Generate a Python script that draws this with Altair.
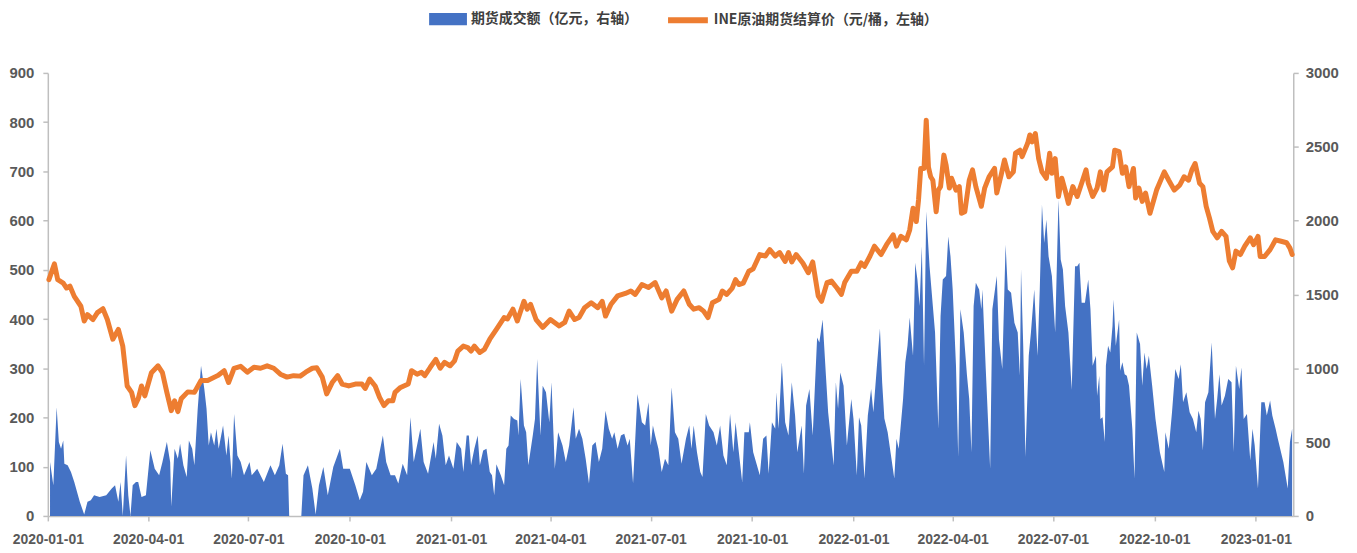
import altair as alt
import pandas as pd

AREA_LABEL = "期货成交额（亿元，右轴）"
LINE_LABEL = "INE原油期货结算价（元/桶，左轴）"
START = "2020-01-01"

# days after 2020-01-01 and settlement price (yuan/barrel, left axis)
price_day = [
    1, 6, 9, 14, 17, 20, 24, 30, 33, 36,
    41, 45, 50, 54, 59, 64, 68, 72, 76, 79,
    82, 85, 88, 94, 100, 104, 108, 112, 115, 118,
    121, 127, 133, 139, 145, 154, 160, 164, 169, 175,
    181, 187, 193, 199, 205, 211, 217, 223, 229, 234,
    240, 244, 249, 253, 258, 263, 267, 273, 279, 285,
    288, 292, 297, 301, 305, 309, 313, 315, 320, 327,
    330, 335, 339, 342, 347, 352, 356, 360, 365, 369,
    372, 377, 381, 384, 387, 392, 396, 401, 407, 414,
    417, 422, 426, 432, 435, 438, 443, 449, 456, 464,
    469, 473, 478, 482, 487, 493, 499, 503, 506, 511,
    517, 524, 529, 533, 539, 545, 551, 557, 561, 566,
    571, 577, 582, 586, 591, 595, 599, 603, 609, 612,
    616, 621, 624, 627, 631, 636, 640, 646, 651, 655,
    660, 664, 669, 672, 675, 679, 685, 690, 694, 699,
    702, 707, 711, 716, 720, 723, 729, 734, 738, 741,
    746, 750, 756, 761, 767, 770, 774, 779, 782, 785,
    788, 790, 792, 795, 797, 799, 801, 803, 806, 808,
    810, 813, 815, 818, 820, 824, 827, 829, 832, 836,
    839, 842, 847, 850, 854, 859, 861, 865, 868, 872,
    876, 878, 882, 884, 889, 891, 893, 896, 899, 902,
    906, 909, 911, 914, 917, 920, 923, 926, 930, 934,
    938, 942, 944, 948, 952, 955, 958, 961, 966, 968,
    972, 975, 978, 981, 985, 987, 990, 993, 996, 1000,
    1006, 1013, 1017, 1022, 1027, 1031, 1035, 1038, 1041, 1045,
    1048, 1051, 1054, 1057, 1061, 1065, 1069, 1072, 1075, 1078,
    1082, 1086, 1091, 1094, 1098, 1100, 1104, 1109, 1114, 1119,
    1124, 1127, 1129,
]
price_value = [
    480, 512, 480, 473, 463, 467, 446, 426, 396, 409,
    399, 413, 421, 399, 359, 379, 345, 264, 251, 224,
    238, 264, 244, 291, 305, 291, 251, 214, 234, 212,
    238, 252, 251, 275, 275, 285, 295, 271, 300, 304,
    292, 302, 300, 305, 300, 288, 282, 285, 284, 292,
    300, 301, 282, 248, 271, 285, 268, 264, 268, 268,
    259, 278, 264, 241, 224, 234, 234, 251, 261, 268,
    295, 288, 292, 285, 302, 318, 300, 312, 305, 315,
    335, 345, 342, 335, 345, 332, 338, 359, 379, 403,
    400, 420, 396, 436, 420, 430, 399, 383, 399, 386,
    393, 416, 399, 403, 423, 433, 423, 436, 406, 430,
    447, 452, 457, 450, 470, 464, 474, 443, 457, 416,
    440, 457, 430, 420, 423, 416, 403, 433, 440, 457,
    450, 463, 480, 470, 473, 497, 502, 531, 528, 541,
    528, 535, 517, 535, 516, 531, 514, 494, 516, 447,
    436, 474, 477, 463, 450, 474, 497, 497, 514, 507,
    528, 548, 531, 551, 571, 548, 568, 561, 581, 625,
    598, 642, 706, 706, 804, 709, 689, 682, 618, 662,
    669, 733, 713, 666, 686, 662, 669, 615, 618, 682,
    703, 669, 629, 666, 689, 706, 656, 693, 723, 689,
    699, 737, 743, 730, 757, 774, 760, 777, 726, 699,
    686, 737, 696, 726, 649, 686, 662, 635, 669, 649,
    676, 703, 676, 649, 666, 699, 662, 699, 709, 743,
    740, 696, 709, 669, 706, 646, 666, 639, 656, 615,
    662, 699, 682, 662, 672, 689, 682, 703, 716, 676,
    669, 629, 605, 578, 565, 578, 568, 518, 504, 538,
    531, 548, 565, 551, 568, 527, 527, 541, 561, 558,
    555, 544, 531,
]

# days after 2020-01-01 and futures turnover (100 million yuan, right axis)
vol_day = [
    2, 5, 8, 10, 12, 14, 15, 18, 21, 24,
    29, 33, 36, 39, 42, 47, 53, 58, 61, 64,
    66, 68, 71, 73, 75, 77, 80, 82, 85, 89,
    93, 97, 101, 104, 108, 111, 112, 115, 118, 120,
    123, 126, 128, 131, 133, 136, 139, 142, 144, 146,
    148, 151, 153, 155, 159, 162, 164, 167, 169, 172,
    175, 178, 183, 185, 190, 196, 202, 206, 210, 213,
    216, 218, 219, 230, 232, 236, 240, 243, 246, 250,
    254, 259, 265, 268, 274, 279, 283, 286, 289, 294,
    298, 304, 307, 311, 315, 318, 322, 326, 329, 332,
    335, 338, 341, 345, 350, 352, 355, 358, 361, 364,
    368, 371, 375, 377, 380, 382, 384, 387, 390, 392,
    395, 398, 401, 403, 405, 407, 411, 414, 416, 418,
    420, 423, 426, 427, 429, 432, 434, 436, 440, 442,
    444, 447, 449, 452, 455, 457, 460, 463, 467, 470,
    473, 477, 479, 482, 485, 488, 491, 494, 497, 500,
    503, 506, 509, 512, 514, 517, 520, 523, 526, 528,
    531, 535, 539, 542, 545, 547, 549, 551, 554, 557,
    560, 563, 566, 569, 572, 575, 579, 582, 584, 586,
    589, 592, 594, 597, 600, 604, 607, 610, 613, 616,
    619, 622, 624, 627, 630, 632, 636, 637, 640, 646,
    649, 652, 654, 657, 660, 661, 663, 666, 669, 672,
    675, 678, 680, 684, 686, 688, 691, 694, 698, 700,
    703, 706, 708, 713, 715, 717, 719, 722, 725, 729,
    731, 734, 736, 738, 741, 744, 747, 749, 752, 755,
    757, 759, 762, 768, 770, 772, 776, 778, 780, 782,
    785, 787, 789, 791, 793, 795, 797, 800, 803, 805,
    808, 810, 812, 815, 817, 819, 821, 824, 826, 828,
    831, 834, 836, 838, 840, 842, 845, 847, 848, 851,
    855, 857, 861, 863, 866, 869, 871, 874, 877, 880,
    882, 883, 885, 887, 890, 892, 895, 898, 900, 902,
    904, 906, 908, 911, 914, 917, 919, 921, 923, 926,
    929, 932, 934, 936, 938, 941, 944, 946, 948, 951,
    952, 954, 955, 957, 959, 960, 962, 964, 966, 967,
    969, 972, 973, 975, 977, 979, 981, 984, 986, 988,
    991, 993, 995, 997, 999, 1002, 1005, 1009, 1013, 1014,
    1017, 1020, 1023, 1026, 1028, 1030, 1033, 1036, 1039, 1042,
    1044, 1046, 1048, 1050, 1053, 1056, 1059, 1061, 1063, 1065,
    1068, 1071, 1074, 1076, 1078, 1081, 1083, 1085, 1088, 1091,
    1093, 1095, 1098, 1101, 1104, 1106, 1109, 1111, 1114, 1116,
    1121, 1125, 1127, 1129,
]
vol_value = [
    365, 208, 736, 500, 455, 511, 354, 343, 298, 230,
    96, 10, 96, 107, 140, 129, 140, 185, 208, 96,
    230, 0, 410, 140, 0, 208, 230, 230, 129, 140,
    444, 320, 275, 365, 500, 365, 64, 455, 388, 489,
    343, 264, 511, 455, 343, 725, 1017, 860, 725, 477,
    567, 477, 590, 455, 612, 410, 545, 253, 691, 410,
    365, 275, 365, 275, 320, 230, 343, 275, 343, 489,
    286, 275, 0, 0, 275, 343, 185, 10, 208, 332,
    140, 332, 455, 320, 320, 208, 107, 163, 365, 275,
    320, 545, 365, 275, 275, 219, 354, 275, 669, 365,
    477, 590, 365, 286, 500, 388, 624, 545, 343, 410,
    320, 500, 455, 298, 545, 545, 343, 455, 545, 343,
    443, 455, 298, 275, 140, 350, 275, 208, 455, 477,
    680, 657, 646, 545, 927, 612, 567, 343, 545, 657,
    1062, 545, 882, 837, 635, 905, 320, 567, 477, 365,
    477, 736, 522, 590, 522, 388, 219, 477, 500, 365,
    455, 713, 590, 522, 567, 455, 545, 556, 477, 522,
    219, 826, 635, 612, 770, 477, 612, 545, 455, 298,
    388, 343, 871, 567, 522, 354, 522, 612, 455, 612,
    432, 298, 264, 691, 612, 567, 477, 612, 410, 343,
    691, 432, 635, 432, 230, 567, 567, 635, 432, 275,
    522, 545, 286, 635, 590, 837, 590, 1040, 635, 545,
    905, 680, 432, 612, 286, 747, 860, 545, 1208, 1175,
    1331, 950, 702, 343, 905, 725, 972, 882, 477, 792,
    657, 275, 668, 612, 253, 680, 860, 702, 990, 1270,
    905, 660, 567, 253, 522, 455, 792, 1040, 1152, 1343,
    1084, 1714, 1601, 1421, 1826, 1017, 2062, 1691, 1421, 1242,
    590, 1354, 1601, 1624, 1893, 1758, 1534, 1017, 399, 1399,
    1242, 949, 792, 432, 1421, 1579, 1534, 1399, 1534, 995,
    320, 1399, 1624, 1197, 995, 1837, 1534, 1511, 1309, 1242,
    949, 1669, 1152, 399, 1084, 1242, 1534, 1084, 1534, 2107,
    1849, 2006, 1758, 1624, 1242, 2141, 1736, 1669, 1421, 1242,
    854, 1691, 1691, 1714, 1444, 1444, 1601, 1399, 1017, 1084,
    814, 949, 657, 668, 500, 1017, 1152, 1107, 1286, 1466,
    1152, 1331, 983, 1040, 960, 949, 882, 590, 253, 1242,
    1164, 882, 1107, 995, 1084, 882, 657, 432, 298, 567,
    455, 702, 995, 927, 1028, 770, 837, 702, 657, 567,
    713, 657, 443, 770, 837, 1175, 657, 792, 960, 747,
    814, 927, 905, 432, 1017, 860, 1005, 657, 691, 376,
    590, 478, 185, 770, 770, 680, 781, 680, 590, 522,
    365, 185, 500, 590,
]

x_tick_dates = [(2020, 1), (2020, 4), (2020, 7), (2020, 10),
                (2021, 1), (2021, 4), (2021, 7), (2021, 10),
                (2022, 1), (2022, 4), (2022, 7), (2022, 10), (2023, 1)]
left_ticks = [0, 100, 200, 300, 400, 500, 600, 700, 800, 900]
right_ticks = [0, 500, 1000, 1500, 2000, 2500, 3000]

assert len(price_day) == len(price_value)
assert len(vol_day) == len(vol_value)


def to_dates(days):
    base = pd.Timestamp(START)
    return [(base + pd.Timedelta(days=int(d))).strftime("%Y-%m-%d") for d in days]


price_df = pd.DataFrame({"date": to_dates(price_day), "price": price_value,
                         "s_line": LINE_LABEL})
vol_df = pd.DataFrame({"date": to_dates(vol_day), "volume": vol_value,
                       "s_area": AREA_LABEL})

NUM_FONT = "Liberation Sans, Arial, sans-serif"
CJK_FONT = "Noto Sans CJK SC"
TXT = "#595959"
AXC = "#BFBFBF"

x_enc = alt.X(
    "date:T",
    title=None,
    scale=alt.Scale(type="utc",
                    domain=[alt.DateTime(year=2020, month=1, date=1, utc=True),
                            alt.DateTime(year=2023, month=2, date=4, utc=True)]),
    axis=alt.Axis(values=[alt.DateTime(year=y, month=m, date=1, utc=True)
                          for y, m in x_tick_dates],
                  labelExpr="utcFormat(datum.value, '%Y-%m-%d')",
                  labelFontSize=14, labelPadding=12, labelFlush=False,
                  labelOverlap=False),
)

area = alt.Chart(vol_df).mark_area(interpolate="linear", opacity=1).encode(
    x=x_enc,
    y=alt.Y("volume:Q", title=None,
            scale=alt.Scale(domain=[0, 3000], nice=False, zero=True),
            axis=alt.Axis(orient="right", values=right_ticks, format="d",
                          labelFontSize=15, labelPadding=7)),
    fill=alt.Fill("s_area:N",
                  scale=alt.Scale(domain=[AREA_LABEL], range=["#4472C4"]),
                  legend=alt.Legend(orient="none", legendX=383, legendY=-73,
                                    title=None, padding=0, labelLimit=0,
                                    symbolType="M-1,-0.32L1,-0.32L1,0.32L-1,0.32Z",
                                    symbolSize=1444, symbolStrokeWidth=0,
                                    symbolFillColor="#4472C4",
                                    labelFont=CJK_FONT, labelFontSize=14,
                                    labelFontWeight="bold", labelColor="#404040",
                                    labelOffset=4)),
)

line = alt.Chart(price_df).mark_line(strokeWidth=5, strokeJoin="round",
                                     strokeCap="round").encode(
    x=x_enc,
    y=alt.Y("price:Q", title=None,
            scale=alt.Scale(domain=[0, 900], nice=False, zero=True),
            axis=alt.Axis(orient="left", values=left_ticks, format="d",
                          labelFontSize=15, labelPadding=9)),
    stroke=alt.Stroke("s_line:N",
                      scale=alt.Scale(domain=[LINE_LABEL], range=["#ED7D31"]),
                      legend=alt.Legend(orient="none", legendX=620, legendY=-76,
                                        title=None, padding=0, labelLimit=0,
                                        symbolType="stroke", symbolSize=1600,
                                        symbolStrokeWidth=6,
                                        labelFont=CJK_FONT, labelFontSize=14,
                                        labelFontWeight="bold",
                                        labelColor="#404040", labelOffset=3)),
)

chart = (
    alt.layer(area, line)
    .resolve_scale(y="independent", fill="independent", stroke="independent")
    .resolve_legend(fill="independent", stroke="independent")
    .properties(width=1251, height=445, autosize="none",
                padding={"left": 40, "top": 64, "right": 56, "bottom": 30},
                background="white")
    .configure_view(stroke=None)
    .configure_axis(labelFont=NUM_FONT, labelFontWeight="bold", labelColor=TXT,
                    domainColor=AXC, domainWidth=1.5, tickColor=AXC, tickWidth=1.5,
                    tickSize=5, grid=False)
)

chart.save("out.html", embed_options={"renderer": "svg", "actions": False})
